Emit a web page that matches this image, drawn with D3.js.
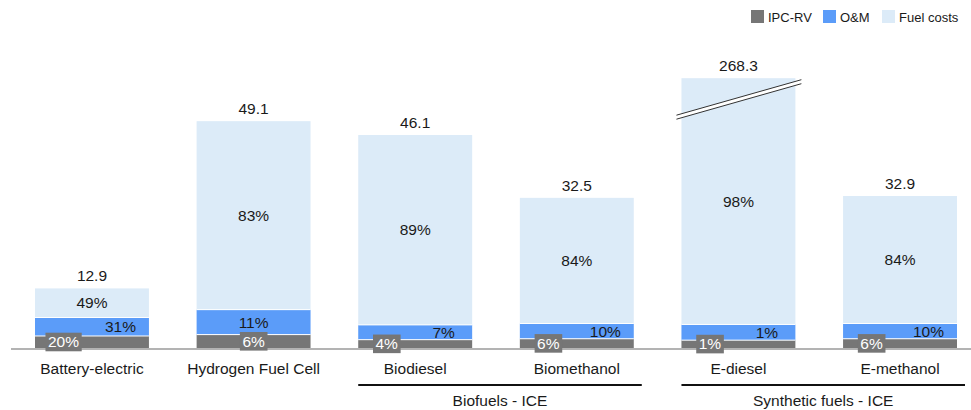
<!DOCTYPE html>
<html>
<head>
<meta charset="utf-8">
<script src="https://cdn.jsdelivr.net/npm/d3@7"></script>
<style>
  html, body { margin: 0; padding: 0; background: #fff; }
  svg { display: block; font-family: "Liberation Sans", Arial, sans-serif; }
</style>
</head>
<body>
<svg id="chart" width="971" height="410"></svg>
<script>
// Cost components per powertrain (absolute values; shares are derived)
const categories = ["Battery-electric", "Hydrogen Fuel Cell", "Biodiesel", "Biomethanol", "E-diesel", "E-methanol"];
const seriesNames = ["IPC-RV", "O&M", "Fuel costs"];
const ipcRv     = [2.6, 2.9, 1.8, 2.0, 1.7, 2.0];
const oAndM     = [4.0, 5.4, 3.2, 3.3, 3.4, 3.3];
const fuelCosts = [6.3, 40.8, 41.1, 27.2, 263.2, 27.6];
const groups = [
  { label: "Biofuels - ICE", from: "Biodiesel", to: "Biomethanol" },
  { label: "Synthetic fuels - ICE", from: "E-diesel", to: "E-methanol" }
];
// Bars taller than this are drawn with an axis break
const axisCap = 58.4;
const yTicks = [0, 60];

const colors = { "IPC-RV": "#767676", "O&M": "#5b9cf9", "Fuel costs": "#dcebf8" };

const svg = d3.select("#chart");
const baseY = 348;

const x = d3.scaleBand().domain(categories).range([35, 957]).paddingInner(0.295).paddingOuter(0);
const y = d3.scaleLinear().domain([yTicks[0], yTicks[1]]).range([baseY, baseY - 60 * 4.62]);

const rows = categories.map((c, i) => {
  const vals = [ipcRv[i], oAndM[i], fuelCosts[i]];
  const total = d3.sum(vals);
  const row = { cat: c, total, broken: total > axisCap, segs: [] };
  let acc = 0;
  vals.forEach((v, k) => {
    const y0 = acc, y1 = acc + v;
    acc = y1;
    row.segs.push({ key: seriesNames[k], v, share: v / total, y0, y1: Math.min(y1, axisCap) });
  });
  return row;
});

const pct = d3.format(".0%");
const fontSize = 15.5;

const bars = svg.append("g");
rows.forEach(r => {
  const g = bars.append("g");
  const bx = x(r.cat), bw = x.bandwidth();
  r.segs.forEach(s => {
    g.append("rect")
      .attr("x", bx).attr("width", bw)
      .attr("y", y(s.y1)).attr("height", y(s.y0) - y(s.y1))
      .attr("fill", colors[s.key]);
  });
  // thin white separators between segments
  [r.segs[0].y1, r.segs[1].y1].forEach(v => {
    g.append("line")
      .attr("x1", bx).attr("x2", bx + bw)
      .attr("y1", y(v)).attr("y2", y(v))
      .attr("stroke", "#fff").attr("stroke-width", 1);
  });
});

// baseline
svg.append("line")
  .attr("x1", 11).attr("x2", 971).attr("y1", baseY + 1).attr("y2", baseY + 1)
  .attr("stroke", "#9a9a9a").attr("stroke-width", 1.5);

// segment labels
const labels = svg.append("g").attr("font-size", fontSize);
rows.forEach(r => {
  const bx = x(r.cat), bw = x.bandwidth();
  const [ipc, om, fuel] = r.segs;
  const cIpc = (y(ipc.y0) + y(ipc.y1)) / 2;
  const cOm = (y(om.y0) + y(om.y1)) / 2;
  const cFuel = (y(fuel.y0) + y(fuel.y1)) / 2;
  const crowded = (cIpc - cOm) < 17;
  const xIpc = crowded ? bx + bw * 0.25 : bx + bw / 2;
  const xOm = crowded ? bx + bw * 0.75 : bx + bw / 2;

  // fuel share
  labels.append("text")
    .attr("x", bx + bw / 2).attr("y", cFuel).attr("dy", "0.35em")
    .attr("text-anchor", "middle").attr("fill", "#1a1a1a")
    .text(pct(fuel.share));

  // O&M share
  labels.append("text")
    .attr("x", xOm).attr("y", cOm).attr("dy", "0.35em")
    .attr("text-anchor", "middle").attr("fill", "#1a1a1a")
    .text(pct(om.share));

  // IPC-RV share on a grey tag
  const t = labels.append("text")
    .attr("x", xIpc).attr("y", cIpc).attr("dy", "0.35em")
    .attr("text-anchor", "middle").attr("fill", "#fff")
    .text(pct(ipc.share));
  const bb = t.node().getBBox();
  labels.insert("rect", () => t.node())
    .attr("x", bb.x - 2.5).attr("width", bb.width + 5)
    .attr("y", cIpc - 9.3).attr("height", 18.6)
    .attr("fill", colors["IPC-RV"]);

  // total value
  const topY = y(Math.min(r.total, axisCap));
  labels.append("text")
    .attr("x", bx + bw / 2).attr("y", topY - 7)
    .attr("text-anchor", "middle").attr("fill", "#1a1a1a")
    .text(d3.format(".1f")(r.total));

  // axis break across the capped bar
  if (r.broken) {
    const xl = bx - 5, xr = bx + bw + 6;
    const yr = topY + 3.5, yl = topY + 39;
    svg.append("polygon")
      .attr("points", [[xl, yl - 2], [xr, yr - 2], [xr, yr + 2], [xl, yl + 2]].map(p => p.join(",")).join(" "))
      .attr("fill", "#fff");
    [-2, 2].forEach(o => {
      svg.append("line")
        .attr("x1", xl).attr("y1", yl + o).attr("x2", xr).attr("y2", yr + o)
        .attr("stroke", "#333").attr("stroke-width", 1);
    });
  }
});

// category axis labels
svg.append("g").attr("font-size", fontSize)
  .selectAll("text").data(categories).join("text")
  .attr("x", d => x(d) + x.bandwidth() / 2)
  .attr("y", 373.5)
  .attr("text-anchor", "middle").attr("fill", "#1a1a1a")
  .text(d => d);

// group brackets
const grp = svg.append("g").attr("font-size", fontSize);
groups.forEach(gd => {
  const x0 = x(gd.from), x1 = x(gd.to) + x.bandwidth() + 8;
  grp.append("line")
    .attr("x1", x0).attr("x2", x1).attr("y1", 385).attr("y2", 385)
    .attr("stroke", "#111").attr("stroke-width", 2);
  grp.append("text")
    .attr("x", (x0 + x1) / 2).attr("y", 405.5)
    .attr("text-anchor", "middle").attr("fill", "#1a1a1a")
    .text(gd.label);
});

// legend
const legendX = [751, 823, 882];
const leg = svg.append("g").attr("font-size", 13);
seriesNames.forEach((n, i) => {
  leg.append("rect")
    .attr("x", legendX[i]).attr("y", 10).attr("width", 13).attr("height", 13)
    .attr("fill", colors[n]);
  leg.append("text")
    .attr("x", legendX[i] + 17).attr("y", 21.5)
    .attr("fill", "#1a1a1a")
    .text(n);
});
</script>
</body>
</html>
